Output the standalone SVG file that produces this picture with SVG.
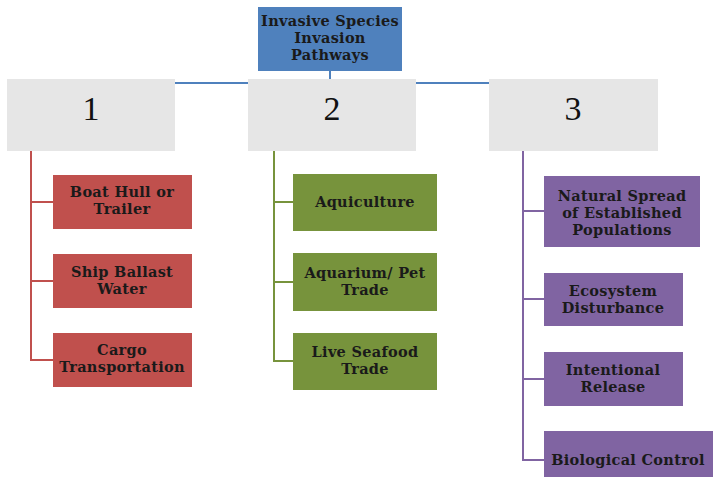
<svg xmlns="http://www.w3.org/2000/svg" width="713" height="477" viewBox="0 0 713 477">
<style>
.t{font-family:"DejaVu Serif","Liberation Serif",serif;font-size:14.5px;font-weight:bold;letter-spacing:0.3px;fill:#1a1a1a;text-anchor:middle}
.n{font-family:"Liberation Serif",serif;font-size:34px;fill:#111;text-anchor:middle}
.g{fill:#e6e6e6}
.r{fill:#c0504d}
.gr{fill:#77933c}
.p{fill:#8064a2}
.b{fill:#4f81bd}
</style>
<rect width="713" height="477" fill="#fff"/>
<g id="connectors" fill="none" stroke-width="2">
<path d="M175 83H489M330 71V79" stroke="#4f81bd"/>
<path d="M31 151V360H53M31 202H53M31 281H53" stroke="#c0504d"/>
<path d="M274 151V361H293M274 202H293M274 282H293" stroke="#77933c"/>
<path d="M523 151V460H544M523 211H544M523 299H544M523 379H544" stroke="#8064a2"/>
</g>
<g id="root"><rect class="b" x="258" y="7" width="144" height="64"/>
<text class="t" x="330" y="26">Invasive Species</text><text class="t" x="330" y="43">Invasion</text><text class="t" x="330" y="60">Pathways</text></g>
<g id="n1"><rect class="g" x="7" y="79" width="168" height="72"/><text class="n" x="91" y="120">1</text></g>
<g id="n2"><rect class="g" x="248" y="79" width="168" height="72"/><text class="n" x="332" y="120">2</text></g>
<g id="n3"><rect class="g" x="489" y="79" width="169" height="72"/><text class="n" x="573" y="120">3</text></g>
<g id="r1"><rect class="r" x="53" y="175" width="139" height="54"/><text class="t" x="122" y="197">Boat Hull or</text><text class="t" x="122" y="214">Trailer</text></g>
<g id="r2"><rect class="r" x="53" y="254" width="139" height="54"/><text class="t" x="122" y="277">Ship Ballast</text><text class="t" x="122" y="294">Water</text></g>
<g id="r3"><rect class="r" x="53" y="333" width="139" height="54"/><text class="t" x="122" y="355">Cargo</text><text class="t" x="122" y="372">Transportation</text></g>
<g id="g1"><rect class="gr" x="293" y="174" width="144" height="57"/><text class="t" x="365" y="207">Aquiculture</text></g>
<g id="g2"><rect class="gr" x="293" y="253" width="144" height="58"/><text class="t" x="365" y="278">Aquarium/ Pet</text><text class="t" x="365" y="295">Trade</text></g>
<g id="g3"><rect class="gr" x="293" y="333" width="144" height="57"/><text class="t" x="365" y="357">Live Seafood</text><text class="t" x="365" y="374">Trade</text></g>
<g id="p1"><rect class="p" x="544" y="176" width="156" height="71"/><text class="t" x="622" y="201">Natural Spread</text><text class="t" x="622" y="218">of Established</text><text class="t" x="622" y="235">Populations</text></g>
<g id="p2"><rect class="p" x="544" y="273" width="139" height="53"/><text class="t" x="613" y="296">Ecosystem</text><text class="t" x="613" y="313">Disturbance</text></g>
<g id="p3"><rect class="p" x="544" y="352" width="139" height="54"/><text class="t" x="613" y="375">Intentional</text><text class="t" x="613" y="392">Release</text></g>
<g id="p4"><rect class="p" x="544" y="431" width="169" height="46"/><text class="t" x="628" y="465">Biological Control</text></g>
</svg>
